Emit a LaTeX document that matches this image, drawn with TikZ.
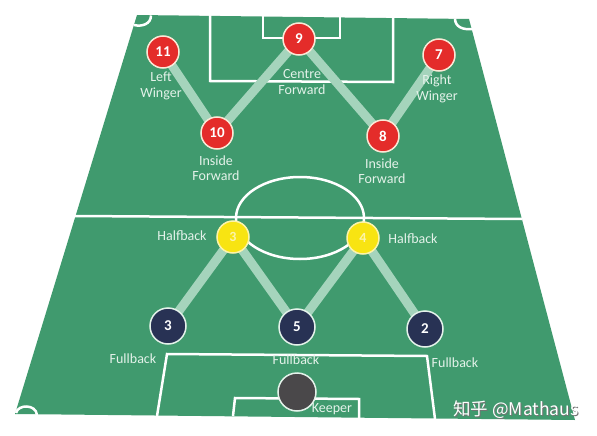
\documentclass[tikz,border=0pt]{standalone}
\usepackage{fontspec}
\setmainfont{Carlito}
\newfontfamily\cjk{Noto Sans CJK SC}
\definecolor{pitch}{RGB}{64,154,110}
\definecolor{linkc}{RGB}{165,212,188}
\definecolor{redc}{RGB}{228,44,42}
\definecolor{creamc}{RGB}{250,232,214}
\definecolor{yellowc}{RGB}{248,228,18}
\definecolor{yelnum}{RGB}{252,244,170}
\definecolor{navyc}{RGB}{40,50,84}
\definecolor{keeperc}{RGB}{74,72,74}
\definecolor{lblc}{RGB}{228,242,234}
\pgfdeclarelayer{bg}
\pgfdeclarelayer{links}
\pgfsetlayers{bg,links,main}
\begin{document}
\begin{tikzpicture}[x=1pt,y=-1pt,
  pitchline/.style={draw=white, line width=2.5pt},
  link/.style={draw=linkc, line width=9pt},
  redp/.style={circle, fill=redc, draw=creamc, line width=1.5pt, minimum size=32pt, inner sep=0pt, text=white, font=\bfseries\fontsize{15}{15}\selectfont},
  yelp/.style={circle, fill=yellowc, draw=yelnum, line width=1.5pt, minimum size=32pt, inner sep=0pt, text=yelnum, font=\bfseries\fontsize{14}{14}\selectfont},
  navyp/.style={circle, fill=navyc, draw=lblc, line width=1.5pt, minimum size=36pt, inner sep=0pt, text=white, font=\bfseries\fontsize{15}{15}\selectfont},
  keepp/.style={circle, fill=keeperc, draw=lblc, line width=1.5pt, minimum size=38pt, inner sep=0pt},
  lbl/.style={text=lblc, font=\fontsize{14}{15.5}\selectfont, align=center, inner sep=0pt}]
\useasboundingbox (0,0) rectangle (597,436);
\begin{pgfonlayer}{bg}
\fill[white] (0,0) rectangle (597,436);
% field
\coordinate (tl) at (137,15);
\coordinate (tr) at (469,19);
\coordinate (br) at (575,420);
\coordinate (bl) at (15,414);
\fill[pitch] (tl) -- (tr) -- (br) -- (bl) -- cycle;
% halfway line and centre circle
\coordinate (hl) at (75,216);
\coordinate (hr) at (522,219);
\draw[pitchline] (hl) -- (hr);
\draw[pitchline] (300,218) ellipse [x radius=64, y radius=41];
% top penalty area and goal area
\draw[pitchline] (210,15) -- (210,81) -- (393,82) -- (393,18);
\draw[pitchline] (263,16) -- (263,38) -- (340,38) -- (340,17);
% bottom penalty area and goal area
\draw[pitchline] (157,416) -- (167,354) -- (427,356) -- (435,419);
\draw[pitchline] (233,416) -- (235,398) -- (359,399) -- (359,419);
% corner arcs
\draw[pitchline] (151,15.5) .. controls (151,24) and (142,27) .. (134,25);
\draw[pitchline] (455,18.5) .. controls (455,27) and (463,30) .. (472,29);
\draw[pitchline] (16,413) .. controls (18,404) and (36,404) .. (37,415);
\end{pgfonlayer}
% players
\node[redp] (n11) at (163,52) {11};
\node[redp] (n9) at (299,39) {9};
\node[redp] (n7) at (439,55) {7};
\node[redp] (n10) at (217,133) {10};
\node[redp] (n8) at (383,136) {8};
\node[yelp] (h3) at (233,237) {3};
\node[yelp] (h4) at (363,238) {4};
\node[navyp] (f3) at (168,326) {3};
\node[navyp] (f5) at (297,327) {5};
\node[navyp] (f2) at (425,329) {2};
\node[keepp] (gk) at (297,392) {};
% links
\begin{pgfonlayer}{links}
\draw[link] (n11.center) -- (n10.center) -- (n9.center) -- (n8.center) -- (n7.center);
\draw[link] (f3.center) -- (h3.center) -- (f5.center) -- (h4.center) -- (f2.center);
\end{pgfonlayer}
% labels
\node[lbl] (lw) at (161,86) {Left\\Winger};
\node[lbl] (cf) at (302,82) {Centre\\Forward};
\node[lbl] (rw) at (437,89) {Right\\Winger};
\node[lbl] (lif) at (216,168) {Inside\\Forward};
\node[lbl] (rif) at (382,171) {Inside\\Forward};
\node[lbl] (lhb) at (182,236) {Halfback};
\node[lbl] (rhb) at (413,239) {Halfback};
\node[lbl] (lfb) at (133,359) {Fullback};
\node[lbl] (cfb) at (296,360) {Fullback};
\node[lbl] (rfb) at (455,363) {Fullback};
\node[lbl] (kp) at (332,409) {Keeper};
% watermark
\node[text=black!55, font=\cjk\fontsize{17.5}{18}\selectfont, inner sep=0pt] (wms) at (516.8,410.8) {知乎 @Mathaus};
\node[text=white, font=\cjk\fontsize{17.5}{18}\selectfont, inner sep=0pt] (wm) at (516,410) {知乎 @Mathaus};
\end{tikzpicture}
\end{document}
